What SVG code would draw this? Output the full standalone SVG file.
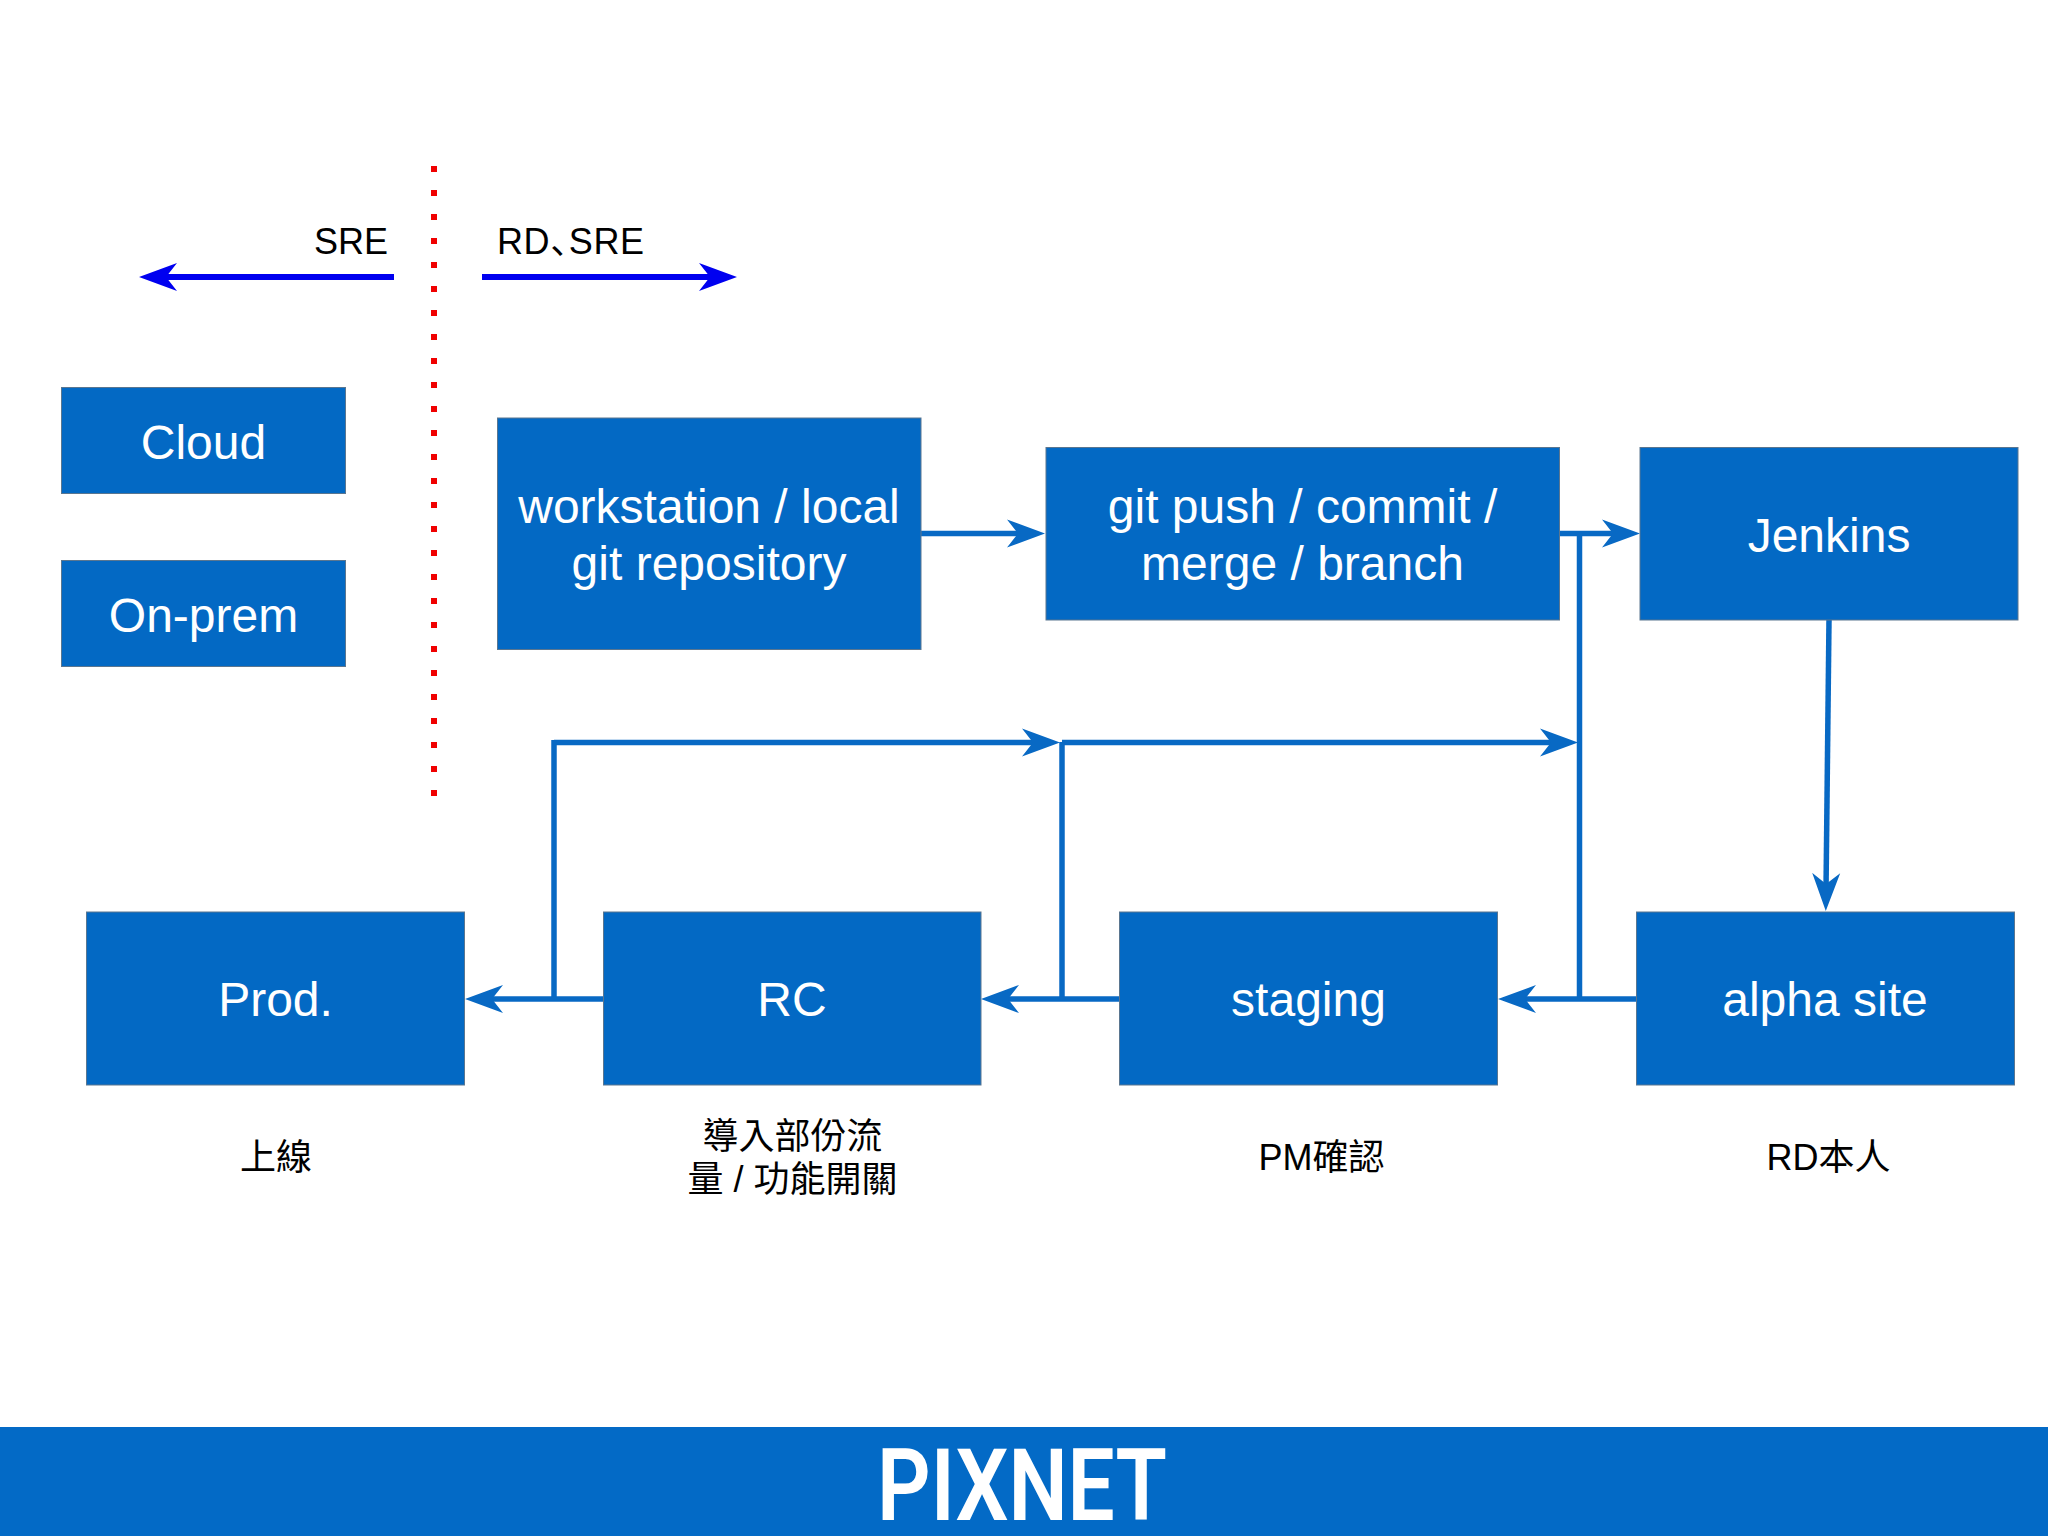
<svg xmlns="http://www.w3.org/2000/svg" width="2048" height="1536" viewBox="0 0 2048 1536">
<style>
.box{fill:#0369c4;stroke:#5a7690;stroke-width:1}
.t{font-family:"Liberation Sans","Noto Sans CJK TC",sans-serif;font-size:48px;fill:#fff;text-anchor:middle}
.l{font-family:"Liberation Sans","Noto Sans CJK TC",sans-serif;font-size:36px;fill:#000;text-anchor:middle}
.s{font-family:"Liberation Sans","Noto Sans CJK SC",sans-serif;font-size:36px;fill:#000;font-feature-settings:"halt";letter-spacing:0.6px}
.c{fill:none;stroke:#0869c4;stroke-width:5.5}
.b{fill:none;stroke:#0000f0;stroke-width:6}
</style>
<defs>
<marker id="ah" markerUnits="userSpaceOnUse" markerWidth="40" markerHeight="30" viewBox="0 -15 40 30" refX="18" refY="0" orient="auto"><path d="M0,-14 L38,0 L0,14 L11,0Z" fill="#0869c4"/></marker>
<marker id="bh" markerUnits="userSpaceOnUse" markerWidth="40" markerHeight="30" viewBox="0 -15 40 30" refX="18" refY="0" orient="auto"><path d="M0,-14 L38,0 L0,14 L11,0Z" fill="#0000f0"/></marker>
</defs>
<rect width="2048" height="1536" fill="#fff"/>
<g id="divider">
<line x1="434" y1="166" x2="434" y2="798" stroke="#f00000" stroke-width="6" stroke-dasharray="6 18"/>
<line class="b" x1="394" y1="277" x2="159" y2="277" marker-end="url(#bh)"/>
<line class="b" x1="482" y1="277" x2="717" y2="277" marker-end="url(#bh)"/>
<text class="l" x="351" y="254">SRE</text>
<text class="s" x="497" y="254">RD、SRE</text>
</g>
<g id="connectors">
<line class="c" x1="921" y1="533.5" x2="1025" y2="533.5" marker-end="url(#ah)"/>
<line class="c" x1="1560" y1="533.5" x2="1620" y2="533.5" marker-end="url(#ah)"/>
<line class="c" x1="1579.5" y1="533" x2="1579.5" y2="999"/>
<line class="c" x1="1829" y1="620" x2="1826" y2="891" marker-end="url(#ah)"/>
<line class="c" x1="1062" y1="742.5" x2="1558" y2="742.5" marker-end="url(#ah)"/>
<line class="c" x1="1062" y1="742" x2="1062" y2="999"/>
<line class="c" x1="554" y1="742.5" x2="1040" y2="742.5" marker-end="url(#ah)"/>
<line class="c" x1="554" y1="740" x2="554" y2="999"/>
<line class="c" x1="1636" y1="999" x2="1518" y2="999" marker-end="url(#ah)"/>
<line class="c" x1="1119" y1="999" x2="1001" y2="999" marker-end="url(#ah)"/>
<line class="c" x1="603" y1="999" x2="485" y2="999" marker-end="url(#ah)"/>
</g>
<g id="cloud"><rect class="box" x="61.5" y="387.5" width="284" height="106"/><text class="t" x="203.5" y="458.5">Cloud</text></g>
<g id="on-prem"><rect class="box" x="61.5" y="560.5" width="284" height="106"/><text class="t" x="203.5" y="631.5">On-prem</text></g>
<g id="workstation"><rect class="box" x="497.5" y="418" width="423.5" height="231.5"/><text class="t" x="709" y="522.5">workstation / local</text><text class="t" x="709" y="580">git repository</text></g>
<g id="git-push"><rect class="box" x="1046" y="447.5" width="513.5" height="172.5"/><text class="t" x="1302.5" y="522.5">git push / commit /</text><text class="t" x="1302.5" y="580">merge / branch</text></g>
<g id="jenkins"><rect class="box" x="1640" y="447.5" width="378" height="172.5"/><text class="t" x="1829" y="551.5">Jenkins</text></g>
<g id="prod"><rect class="box" x="86.5" y="912" width="378" height="173"/><text class="t" x="275.5" y="1016">Prod.</text></g>
<g id="rc"><rect class="box" x="603.5" y="912" width="377.5" height="173"/><text class="t" x="792" y="1016">RC</text></g>
<g id="staging"><rect class="box" x="1119.5" y="912" width="378" height="173"/><text class="t" x="1308.5" y="1016">staging</text></g>
<g id="alpha"><rect class="box" x="1636.5" y="912" width="378" height="173"/><text class="t" x="1825" y="1016">alpha site</text></g>
<g id="labels">
<text class="l" x="276" y="1170">上線</text>
<text class="l" x="792.5" y="1148.5">導入部份流</text>
<text class="l" x="792.5" y="1192">量 / 功能開關</text>
<text class="l" x="1321.5" y="1170">PM確認</text>
<text class="l" x="1828.5" y="1170">RD本人</text>
</g>
<g id="footer">
<rect x="0" y="1427" width="2048" height="109" fill="#036ac6"/>
<text x="877" y="1520" font-family="Roboto,sans-serif" font-size="100" font-weight="600" fill="#fff" textLength="290" lengthAdjust="spacingAndGlyphs">PIXNET</text>
</g>
</svg>
